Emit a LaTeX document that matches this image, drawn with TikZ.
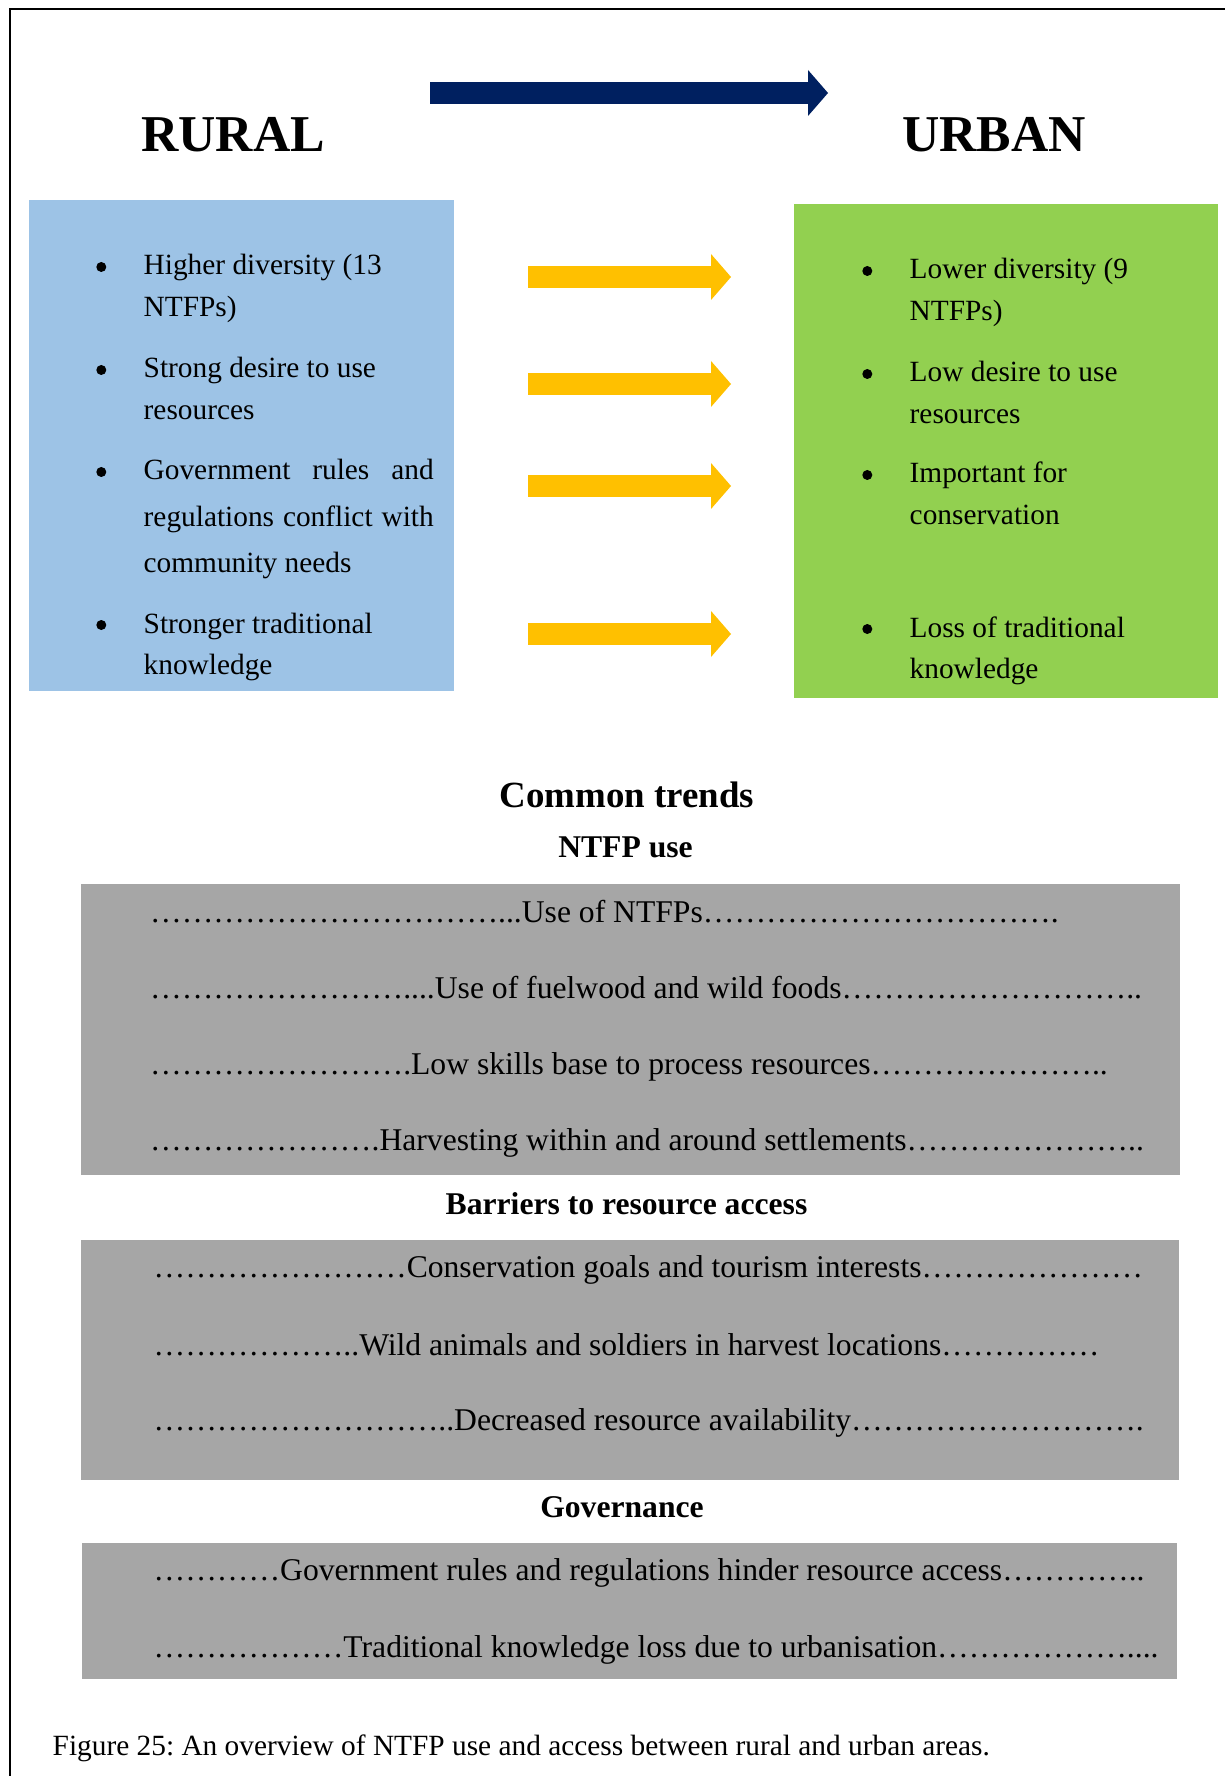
\documentclass[tikz,border=0pt]{standalone}
\usepackage{fontspec}
\setmainfont{Liberation Serif}
\usetikzlibrary{arrows.meta,positioning}
\definecolor{ruralblue}{RGB}{157,195,230}
\definecolor{urbangreen}{RGB}{146,208,80}
\definecolor{trendgray}{RGB}{166,166,166}
\definecolor{flowgold}{RGB}{255,192,0}
\definecolor{flownavy}{RGB}{0,32,96}
\newcommand\dotrun[1]{\foreach \k in {1,...,#1}{…}}
\frenchspacing

\begin{document}
\begin{tikzpicture}[
  box/.style={rectangle, inner sep=0pt, anchor=north west},
  bigarr/.style={line width=0.22cm, -{Triangle[length=0.2cm, width=0.46cm, line width=0pt]}},
  title/.style={anchor=base, inner sep=0pt, font=\bfseries\fontsize{14.7}{17}\selectfont},
  head/.style={anchor=base, inner sep=0pt, font=\bfseries\fontsize{9}{11}\selectfont},
  bul/.style={circle, fill=black, inner sep=0pt, minimum size=0.1cm},
  point/.style={anchor=base west, inner sep=0pt, text width=2.9cm, align=flush left, font=\fontsize{8.35}{11.95}\selectfont, execute at begin node={\hyphenpenalty=10000}},
  trend/.style={anchor=base west, inner sep=0pt, font=\fontsize{9}{11}\selectfont}
]
\useasboundingbox (0,0) rectangle (12.25,-17.76);

% frame (only top and left edge show)
\draw[line width=0.025cm] (12.25,-0.09) -- (0.10,-0.09) -- (0.10,-17.76);

% rural -> urban
\node[title] (rural) at (2.33,-1.52) {RURAL};
\node[title] (urban) at (9.94,-1.52) {URBAN};
\coordinate (navys) at (4.30,-0.93);
\coordinate (navye) at (8.28,-0.93);
\draw[bigarr, flownavy] (navys) -- (navye);

\node[box, fill=ruralblue, minimum width=4.25cm, minimum height=4.91cm] (ruralbox) at (0.28,-1.99) {};
\node[box, fill=urbangreen, minimum width=4.24cm, minimum height=4.94cm] (urbanbox) at (7.93,-2.03) {};

\node[point] (r1) at (1.43,-2.75) {Higher diversity (13 NTFPs)};
\node[point] (r2) at (1.43,-3.78) {Strong desire to use resources};
\node[point, align=justify, font=\fontsize{8.35}{13.1}\selectfont] (r3) at (1.43,-4.80) {Government rules and regulations conflict with community needs};
\node[point] (r4) at (1.43,-6.33) {Stronger traditional knowledge};
\node[bul, left=0.36cm of r1.base west, yshift=0.08cm] (rb1) {};
\node[bul, left=0.36cm of r2.base west, yshift=0.08cm] (rb2) {};
\node[bul, left=0.36cm of r3.base west, yshift=0.08cm] (rb3) {};
\node[bul, left=0.36cm of r4.base west, yshift=0.08cm] (rb4) {};

\node[point] (u1) at (9.09,-2.79) {Lower diversity (9 NTFPs)};
\node[point] (u2) at (9.09,-3.82) {Low desire to use resources};
\node[point] (u3) at (9.09,-4.83) {Important for conservation};
\node[point] (u4) at (9.09,-6.37) {Loss of traditional knowledge};
\node[bul, left=0.36cm of u1.base west, yshift=0.08cm] (ub1) {};
\node[bul, left=0.36cm of u2.base west, yshift=0.08cm] (ub2) {};
\node[bul, left=0.36cm of u3.base west, yshift=0.08cm] (ub3) {};
\node[bul, left=0.36cm of u4.base west, yshift=0.08cm] (ub4) {};

% gold arrows between the two lists
\coordinate (g1s) at (5.28,-2.77); \coordinate (g1e) at (7.31,-2.77);
\coordinate (g2s) at (5.28,-3.84); \coordinate (g2e) at (7.31,-3.84);
\coordinate (g3s) at (5.28,-4.86); \coordinate (g3e) at (7.31,-4.86);
\coordinate (g4s) at (5.28,-6.34); \coordinate (g4e) at (7.31,-6.34);
\draw[bigarr, flowgold] (g1s) -- (g1e);
\draw[bigarr, flowgold] (g2s) -- (g2e);
\draw[bigarr, flowgold] (g3s) -- (g3e);
\draw[bigarr, flowgold] (g4s) -- (g4e);

% common trends
\node[head, font=\bfseries\fontsize{10.5}{13}\selectfont] (common) at (6.27,-8.07) {Common trends};
\node[head] (usehead) at (6.255,-8.57) {NTFP use};
\node[box, fill=trendgray, minimum width=10.99cm, minimum height=2.91cm] (usebox) at (0.80,-8.83) {};
\node[trend] (use1) at (1.495,-9.22) {\dotrun{11}...Use of NTFPs\dotrun{11}.};
\node[trend] (use2) at (1.495,-9.98) {\dotrun{8}....Use of fuelwood and wild foods\dotrun{9}..};
\node[trend] (use3) at (1.495,-10.74) {\dotrun{8}.Low skills base to process resources\dotrun{7}..};
\node[trend] (use4) at (1.495,-11.50) {\dotrun{7}.Harvesting within and around settlements\dotrun{7}..};

\node[head] (barhead) at (6.265,-12.14) {Barriers to resource access};
\node[box, fill=trendgray, minimum width=10.98cm, minimum height=2.40cm] (barbox) at (0.80,-12.39) {};
\node[trend] (bar1) at (1.53,-12.77) {\dotrun{8}Conservation goals and tourism interests\dotrun{7}};
\node[trend] (bar2) at (1.53,-13.55) {\dotrun{6}..Wild animals and soldiers in harvest locations\dotrun{5}};
\node[trend] (bar3) at (1.53,-14.30) {\dotrun{9}..Decreased resource availability\dotrun{9}.};

\node[head] (govhead) at (6.22,-15.17) {Governance};
\node[box, fill=trendgray, minimum width=10.95cm, minimum height=1.36cm] (govbox) at (0.81,-15.42) {};
\node[trend] (gov1) at (1.53,-15.80) {\dotrun{4}Government rules and regulations hinder resource access\dotrun{4}..};
\node[trend] (gov2) at (1.53,-16.57) {\dotrun{6}Traditional knowledge loss due to urbanisation\dotrun{6}....};

\node[anchor=base west, inner sep=0pt, font=\fontsize{8.35}{10}\selectfont] (caption) at (0.52,-17.55) {Figure 25: An overview of NTFP use and access between rural and urban areas.};
\end{tikzpicture}
\end{document}
